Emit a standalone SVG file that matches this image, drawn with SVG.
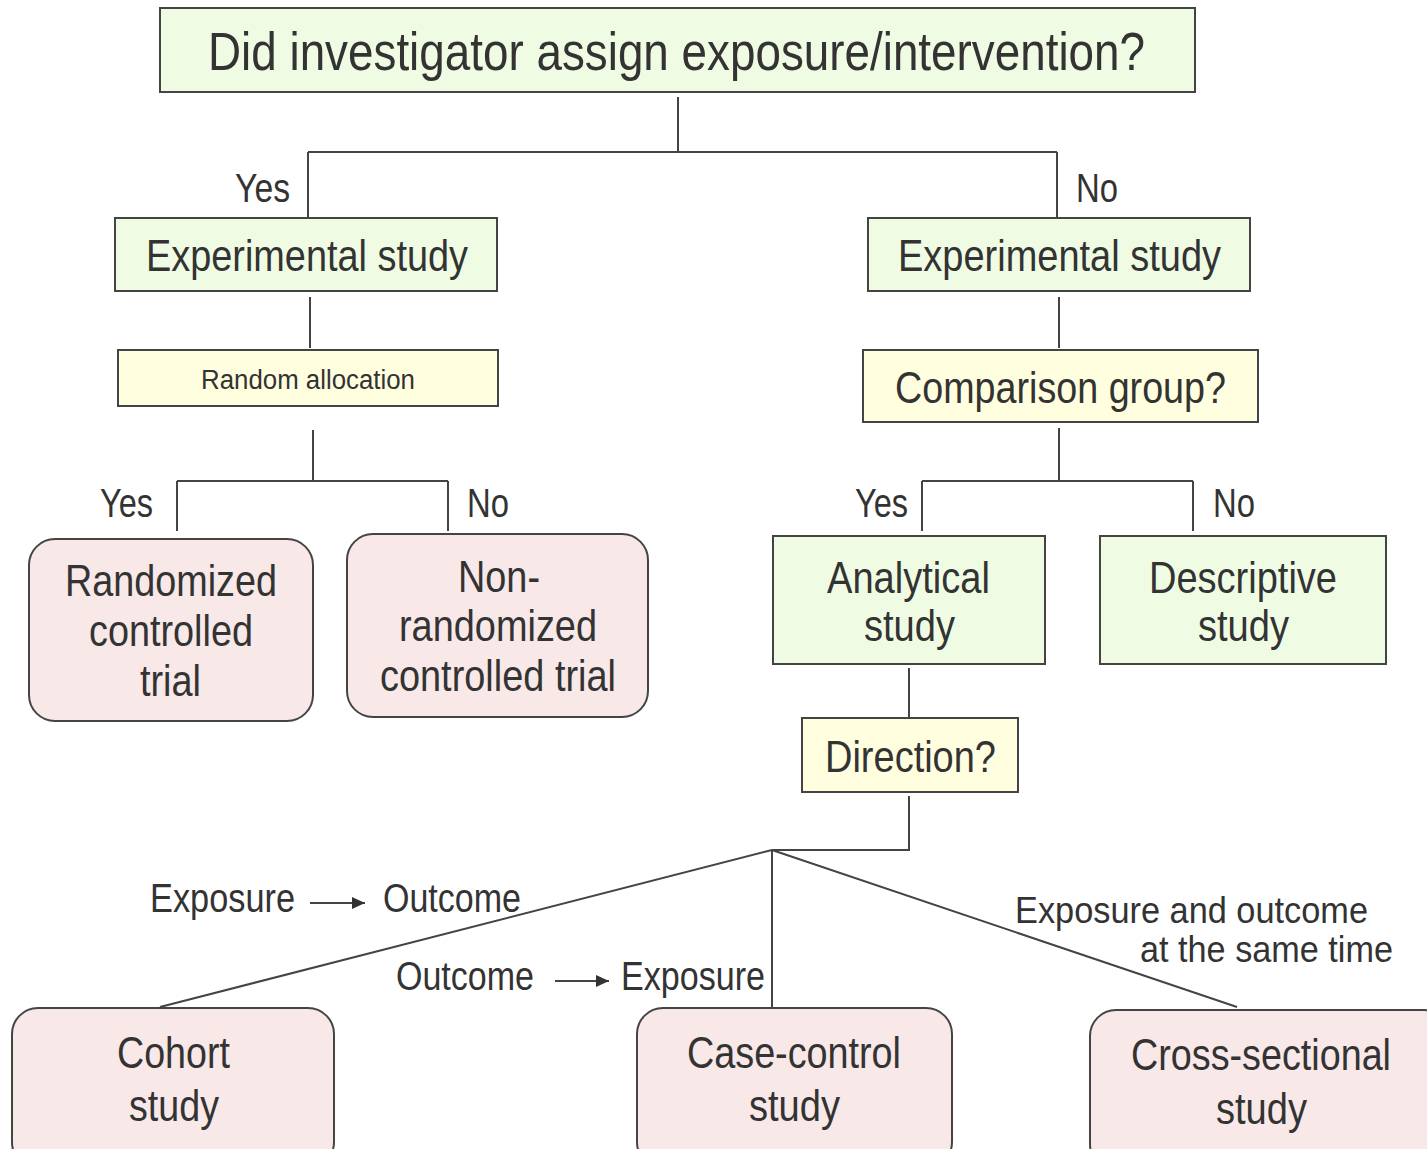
<svg xmlns="http://www.w3.org/2000/svg" width="1427" height="1149" viewBox="0 0 1427 1149">
<style>
text{font-family:"Liberation Sans Narrow","Liberation Sans",Arial,sans-serif;fill:#333;text-anchor:middle}
.g{fill:#effce3;stroke:#444;stroke-width:2}
.y{fill:#ffffe0;stroke:#444;stroke-width:2}
.p{fill:#f8e8e8;stroke:#444;stroke-width:2}
.c{fill:none;stroke:#444;stroke-width:2}
.l{font-size:40px}
.s{font-size:37px}
.b{font-size:44px}
</style>
<defs>
<marker id="ah" viewBox="0 0 13 12" refX="13" refY="6" markerWidth="13" markerHeight="12" markerUnits="userSpaceOnUse" orient="auto">
<path d="M0,0 L13,6 L0,12 z" fill="#333"/>
</marker>
</defs>
<rect width="1427" height="1149" fill="#fff"/>
<g id="connectors">
<path class="c" d="M678,97 V152 M308,152 H1057 M308,152 V218 M1057,152 V218"/>
<path class="c" d="M310,297 V348 M1059,297 V348"/>
<path class="c" d="M313,430 V481 M177,481 H448 M177,481 V531 M448,481 V531"/>
<path class="c" d="M1059,428 V481 M922,481 H1193 M922,481 V531 M1193,481 V531"/>
<path class="c" d="M909,668 V718 M909,796 V850 H772"/>
<path class="c" d="M772,850 L160,1007 M772,850 V1007 M772,850 L1237,1007"/>
<path class="c" d="M310,903 H365" marker-end="url(#ah)"/>
<path class="c" d="M555,981 H609" marker-end="url(#ah)"/>
<text class="l" x="262.5" y="202" textLength="55" lengthAdjust="spacingAndGlyphs">Yes</text>
<text class="l" x="1097" y="202" textLength="42" lengthAdjust="spacingAndGlyphs">No</text>
<text class="l" x="126.5" y="517" textLength="53" lengthAdjust="spacingAndGlyphs">Yes</text>
<text class="l" x="488" y="517" textLength="42" lengthAdjust="spacingAndGlyphs">No</text>
<text class="l" x="881.5" y="517" textLength="53" lengthAdjust="spacingAndGlyphs">Yes</text>
<text class="l" x="1234" y="517" textLength="42" lengthAdjust="spacingAndGlyphs">No</text>
<text class="l" x="222.5" y="912" textLength="145" lengthAdjust="spacingAndGlyphs">Exposure</text>
<text class="l" x="452" y="912" textLength="138" lengthAdjust="spacingAndGlyphs">Outcome</text>
<text class="l" x="465" y="990" textLength="138" lengthAdjust="spacingAndGlyphs">Outcome</text>
<text class="l" x="693" y="990" textLength="144" lengthAdjust="spacingAndGlyphs">Exposure</text>
<text class="s" x="1191.5" y="923" textLength="353" lengthAdjust="spacingAndGlyphs">Exposure and outcome</text>
<text class="s" x="1266.5" y="962" textLength="253" lengthAdjust="spacingAndGlyphs">at the same time</text>
</g>
<g id="n-top">
<rect class="g" x="160" y="8" width="1035" height="84"/>
<text x="676.5" y="70" font-size="53" textLength="937" lengthAdjust="spacingAndGlyphs">Did investigator assign exposure/intervention?</text>
</g>
<g id="n-exp-left">
<rect class="g" x="115" y="218" width="382" height="73"/>
<text class="b" x="307" y="271" textLength="322" lengthAdjust="spacingAndGlyphs">Experimental study</text>
</g>
<g id="n-exp-right">
<rect class="g" x="868" y="218" width="382" height="73"/>
<text class="b" x="1059.5" y="271" textLength="323" lengthAdjust="spacingAndGlyphs">Experimental study</text>
</g>
<g id="n-random">
<rect class="y" x="118" y="350" width="380" height="56"/>
<text x="308" y="389" font-size="27" textLength="214" lengthAdjust="spacingAndGlyphs">Random allocation</text>
</g>
<g id="n-comparison">
<rect class="y" x="863" y="350" width="395" height="72"/>
<text class="b" x="1060.5" y="403" textLength="331" lengthAdjust="spacingAndGlyphs">Comparison group?</text>
</g>
<g id="n-rct">
<rect class="p" x="29" y="539" width="284" height="182" rx="26"/>
<text class="b" x="171" y="596" textLength="212" lengthAdjust="spacingAndGlyphs">Randomized</text>
<text class="b" x="171" y="646" textLength="164" lengthAdjust="spacingAndGlyphs">controlled</text>
<text class="b" x="170.5" y="696" textLength="61" lengthAdjust="spacingAndGlyphs">trial</text>
</g>
<g id="n-nrct">
<rect class="p" x="347" y="534" width="301" height="183" rx="26"/>
<text class="b" x="499" y="592" textLength="82" lengthAdjust="spacingAndGlyphs">Non-</text>
<text class="b" x="498" y="641" textLength="198" lengthAdjust="spacingAndGlyphs">randomized</text>
<text class="b" x="498" y="691" textLength="236" lengthAdjust="spacingAndGlyphs">controlled trial</text>
</g>
<g id="n-analytical">
<rect class="g" x="773" y="536" width="272" height="128"/>
<text class="b" x="908.5" y="593" textLength="163" lengthAdjust="spacingAndGlyphs">Analytical</text>
<text class="b" x="909.5" y="641" textLength="91" lengthAdjust="spacingAndGlyphs">study</text>
</g>
<g id="n-descriptive">
<rect class="g" x="1100" y="536" width="286" height="128"/>
<text class="b" x="1243" y="593" textLength="188" lengthAdjust="spacingAndGlyphs">Descriptive</text>
<text class="b" x="1243.5" y="641" textLength="91" lengthAdjust="spacingAndGlyphs">study</text>
</g>
<g id="n-direction">
<rect class="y" x="802" y="718" width="216" height="74"/>
<text class="b" x="910.5" y="772" textLength="171" lengthAdjust="spacingAndGlyphs">Direction?</text>
</g>
<g id="n-cohort">
<rect class="p" x="12" y="1008" width="322" height="160" rx="26"/>
<text class="b" x="173.5" y="1068" textLength="113" lengthAdjust="spacingAndGlyphs">Cohort</text>
<text class="b" x="174" y="1121" textLength="90" lengthAdjust="spacingAndGlyphs">study</text>
</g>
<g id="n-casecontrol">
<rect class="p" x="637" y="1008" width="315" height="160" rx="26"/>
<text class="b" x="794" y="1068" textLength="214" lengthAdjust="spacingAndGlyphs">Case-control</text>
<text class="b" x="794.5" y="1121" textLength="91" lengthAdjust="spacingAndGlyphs">study</text>
</g>
<g id="n-crosssectional">
<rect class="p" x="1090" y="1010" width="360" height="160" rx="26"/>
<text class="b" x="1261" y="1070" textLength="260" lengthAdjust="spacingAndGlyphs">Cross-sectional</text>
<text class="b" x="1261.5" y="1124" textLength="91" lengthAdjust="spacingAndGlyphs">study</text>
</g>
</svg>
